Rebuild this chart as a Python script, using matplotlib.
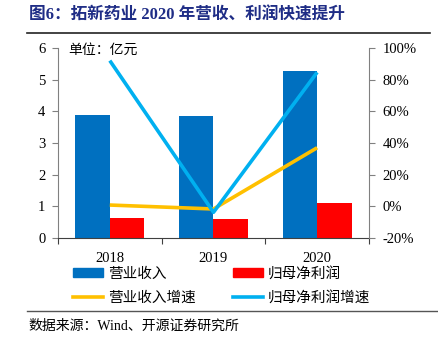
import matplotlib
matplotlib.use("Agg")
import matplotlib.pyplot as plt
from matplotlib.lines import Line2D
from matplotlib.patches import Patch
from matplotlib.ticker import FuncFormatter

plt.rcParams["font.family"] = ["Liberation Serif", "Noto Sans CJK SC", "DejaVu Sans"]
plt.rcParams["axes.unicode_minus"] = False

# 拓新药业 2018-2020 营收与利润（亿元）及增速
years = ["2018", "2019", "2020"]
revenue = [3.90, 3.85, 5.28]
net_profit = [0.61, 0.59, 1.10]
revenue_growth = [0.007, -0.018, 0.37]
profit_growth = [0.922, -0.039, 0.848]

blue = "#0070C0"
red = "#FF0000"
yellow = "#FFC000"
sky = "#00B0F0"
navy = "#1F2D86"
grey = "#808080"

fig = plt.figure(figsize=(4.39, 3.46), dpi=100)
ax = fig.add_axes([0.1321, 0.313, 0.7084, 0.5474])
x = list(range(len(years)))
w = 0.333

ax.bar([i - w / 2 for i in x], revenue, width=w, color=blue, label="营业收入")
ax.bar([i + w / 2 for i in x], net_profit, width=w, color=red, label="归母净利润")
ax.set_xlim(-0.5, 2.5)
ax.set_ylim(0, 6)
ax.set_yticks(range(0, 7))
ax.set_xticks([-0.5, 0.5, 1.5, 2.5])
ax.set_xticklabels([])
ax.set_xticks(x, minor=True)
ax.set_xticklabels(years, minor=True)
ax.tick_params(axis="x", which="major", length=4, color="#404040")
ax.tick_params(axis="x", which="minor", length=0, pad=10, labelsize=10.5)
ax.tick_params(axis="y", length=4, color=grey, pad=5, labelsize=10.5)
for s in ["top", "right"]:
    ax.spines[s].set_visible(False)
ax.spines["left"].set_color(grey)
ax.spines["bottom"].set_color("#404040")
fig.text(68 / 439, 1 - 50 / 346, "单位：亿元", fontsize=10, va="center", ha="left")

ax2 = ax.twinx()
ax2.plot(x, revenue_growth, color=yellow, lw=2.6, solid_capstyle="butt")
ax2.plot(x, profit_growth, color=sky, lw=2.6, solid_capstyle="butt")
ax2.set_ylim(-0.2, 1.0)
ax2.set_yticks([-0.2, 0, 0.2, 0.4, 0.6, 0.8, 1.0])
ax2.yaxis.set_major_formatter(FuncFormatter(lambda v, p: "{:.0f}%".format(v * 100)))
ax2.tick_params(axis="y", length=4, color=grey, pad=6, labelsize=10.5)
for s in ["top", "left", "bottom"]:
    ax2.spines[s].set_visible(False)
ax2.spines["right"].set_color(grey)

handles = [
    Patch(color=blue), Line2D([], [], color=yellow, lw=2.6),
    Patch(color=red), Line2D([], [], color=sky, lw=2.6),
]
labels = ["营业收入", "营业收入增速", "归母净利润", "归母净利润增速"]
fig.legend(handles, labels, ncol=2, loc="upper left",
           bbox_to_anchor=(73 / 439, 1 - 267 / 346), frameon=False,
           fontsize=10.5, handlelength=2.05, handleheight=0.55,
           handletextpad=0.35, columnspacing=2.55, labelspacing=0.7,
           borderpad=0, borderaxespad=0)

fig.text(29 / 439, 1 - 16 / 346, "图6：拓新药业 2020 年营收、利润快速提升",
         fontsize=12, fontweight="bold", color=navy, va="center", ha="left")
fig.add_artist(Line2D([27 / 439, 430 / 439], [1 - 33 / 346, 1 - 33 / 346],
                      color="#222222", lw=1.2))
fig.add_artist(Line2D([27 / 439, 1.0], [1 - 311 / 346, 1 - 311 / 346],
                      color="#555555", lw=1.0))
fig.text(28 / 439, 1 - 326 / 346, "数据来源：Wind、开源证券研究所",
         fontsize=10, va="center", ha="left")

fig.savefig("out.png", dpi=100)
